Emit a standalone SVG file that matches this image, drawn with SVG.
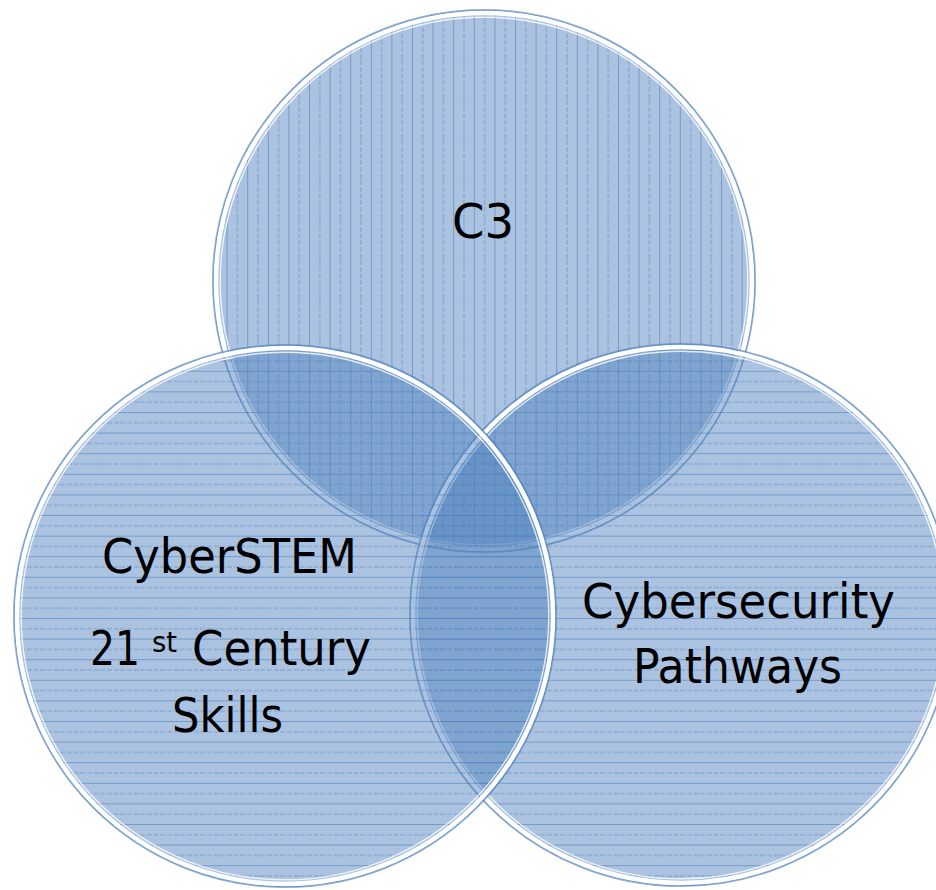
<svg xmlns="http://www.w3.org/2000/svg" width="936" height="890" viewBox="0 0 936 890">
  <defs>
    <pattern id="vert" patternUnits="userSpaceOnUse" x="0" y="0" width="20.6" height="20">
      <rect width="20.6" height="20" fill="#4F81BD" fill-opacity="0.48"/>
      <line x1="0.5" y1="0" x2="0.5" y2="20" stroke="#4F81BD" stroke-opacity="0.6" stroke-width="1"/>
      <line x1="10.8" y1="0" x2="10.8" y2="20" stroke="#4F81BD" stroke-opacity="0.55" stroke-width="1" stroke-dasharray="5 2"/>
    </pattern>
    <pattern id="horiz" patternUnits="userSpaceOnUse" x="0" y="0" width="20" height="20.6">
      <rect width="20" height="20.6" fill="#4F81BD" fill-opacity="0.48"/>
      <line x1="0" y1="0.5" x2="20" y2="0.5" stroke="#4F81BD" stroke-opacity="0.6" stroke-width="1"/>
      <line x1="0" y1="10.8" x2="20" y2="10.8" stroke="#4F81BD" stroke-opacity="0.55" stroke-width="1" stroke-dasharray="5 2"/>
    </pattern>
  </defs>
  <style>
    .rim { fill: none; stroke: #ffffff; stroke-width: 4.5; }
    .rim2 { fill: none; stroke: #ffffff; stroke-width: 1.4; stroke-opacity: 0.8; }
    .edge { fill: none; stroke: #4F81BD; stroke-opacity: 0.65; stroke-width: 2; }
    .lbl { font-family: "DejaVu Sans", "Liberation Sans", sans-serif; font-size: 48px; fill: #000000; }
  </style>
  <rect width="936" height="890" fill="#ffffff"/>

  <g id="c3">
    <circle cx="484" cy="281" r="271" fill="url(#vert)"/>
    <circle cx="484" cy="281" r="271" class="edge"/>
    <circle cx="484" cy="281" r="268" class="rim"/>
    <circle cx="484" cy="281" r="263.8" class="rim2"/>
    <text class="lbl" x="483" y="238" text-anchor="middle" textLength="62" lengthAdjust="spacingAndGlyphs">C3</text>
  </g>

  <g id="pathways">
    <circle cx="681" cy="615" r="271" fill="url(#horiz)"/>
    <circle cx="681" cy="615" r="271" class="edge"/>
    <circle cx="681" cy="615" r="268" class="rim"/>
    <circle cx="681" cy="615" r="263.8" class="rim2"/>
    <text class="lbl" x="582" y="618" textLength="313" lengthAdjust="spacingAndGlyphs">Cybersecurity</text>
    <text class="lbl" x="633" y="683" textLength="209" lengthAdjust="spacingAndGlyphs">Pathways</text>
  </g>

  <g id="cyberstem">
    <circle cx="285" cy="616" r="271" fill="url(#horiz)"/>
    <circle cx="285" cy="616" r="271" class="edge"/>
    <circle cx="285" cy="616" r="268" class="rim"/>
    <circle cx="285" cy="616" r="263.8" class="rim2"/>
    <text class="lbl" x="102" y="573" textLength="255" lengthAdjust="spacingAndGlyphs">CyberSTEM</text>
    <text class="lbl"><tspan x="90" y="665" textLength="50" lengthAdjust="spacingAndGlyphs">21</tspan><tspan x="152" y="652" font-size="28" textLength="25" lengthAdjust="spacingAndGlyphs">st</tspan><tspan x="192" y="665" textLength="179" lengthAdjust="spacingAndGlyphs">Century</tspan></text>
    <text class="lbl" x="172" y="732" textLength="111" lengthAdjust="spacingAndGlyphs">Skills</text>
  </g>
</svg>
